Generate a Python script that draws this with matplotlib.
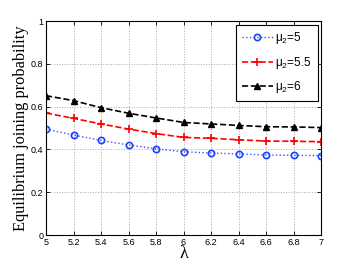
import numpy as np
import matplotlib.pyplot as plt

# arrival rate lambda
lam = [5, 5.2, 5.4, 5.6, 5.8, 6, 6.2, 6.4, 6.6, 6.8, 7]

# equilibrium joining probability for each mu_2
p_mu5 = [0.495, 0.467, 0.442, 0.421, 0.403, 0.389, 0.383, 0.379, 0.374, 0.372, 0.371]
p_mu55 = [0.570, 0.545, 0.519, 0.495, 0.474, 0.456, 0.452, 0.445, 0.439, 0.438, 0.436]
p_mu6 = [0.651, 0.628, 0.595, 0.569, 0.547, 0.526, 0.519, 0.512, 0.506, 0.505, 0.502]

labels = [r'$\mathregular{\mu_2}$=5', r'$\mathregular{\mu_2}$=5.5', r'$\mathregular{\mu_2}$=6']
xticks = [5, 5.2, 5.4, 5.6, 5.8, 6, 6.2, 6.4, 6.6, 6.8, 7]
yticks = [0, 0.2, 0.4, 0.6, 0.8, 1]


def main():
    plt.rcParams['mathtext.fontset'] = 'custom'
    plt.rcParams['mathtext.rm'] = 'Liberation Sans'
    plt.rcParams['mathtext.it'] = 'Liberation Sans'

    fig = plt.figure(figsize=(3.54, 2.66), dpi=100)
    ax = fig.add_axes([0.130, 0.1165, 0.777, 0.8045])

    ax.plot(lam, p_mu5, ':', color='#3355ff', lw=1.0, marker='o', ms=4.5,
            mfc='none', mec='#1f3fff', mew=1.2, label=labels[0])
    ax.plot(lam, p_mu55, '--', color='red', lw=1.2, marker='+', ms=5.5,
            mew=1.2, label=labels[1])
    ax.plot(lam, p_mu6, '--', color='black', lw=1.2, marker='^', ms=4.5,
            mfc='black', mec='black', label=labels[2])

    ax.set_xlim(5, 7)
    ax.set_ylim(0, 1)
    ax.set_xticks(xticks)
    ax.set_xticklabels([f'{t:g}' for t in xticks], family='Liberation Sans', fontsize=6.5)
    ax.set_yticks(yticks)
    ax.set_yticklabels([f'{t:g}' for t in yticks], family='Liberation Sans', fontsize=6.5)
    ax.tick_params(direction='in', length=3, width=0.6, top=True, right=True, pad=2)
    ax.grid(True, linestyle=':', color='#aaaaaa', lw=0.7)
    for s in ax.spines.values():
        s.set_linewidth(0.8)

    ax.set_xlabel('λ', family='Liberation Serif', fontsize=13, labelpad=-1)
    ax.set_ylabel('Equilibrium joining probability', family='Liberation Serif',
                  fontsize=11.8, labelpad=1)

    leg = ax.legend(loc='upper right', fancybox=False, edgecolor='black',
                    prop={'family': 'Liberation Sans', 'size': 8.5},
                    handlelength=2.6, handletextpad=0.2, borderaxespad=0.3,
                    labelspacing=0.7, borderpad=0.5, framealpha=1)
    leg.get_frame().set_linewidth(0.8)

    fig.savefig('out.png', dpi=100)


if __name__ == '__main__':
    main()
